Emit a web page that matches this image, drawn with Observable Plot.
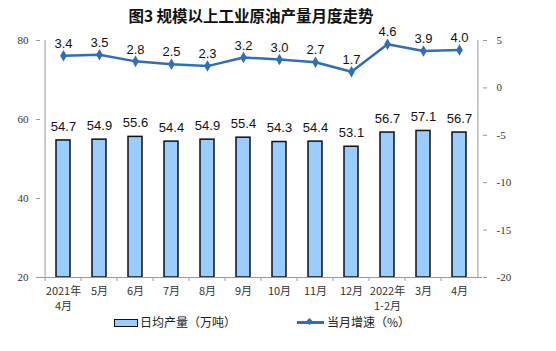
<!DOCTYPE html>
<html><head><meta charset="utf-8">
<script src="https://cdn.jsdelivr.net/npm/d3@7"></script>
<script src="https://cdn.jsdelivr.net/npm/@observablehq/plot@0.6"></script>
<style>
body{margin:0;background:#fff;width:556px;height:351px;overflow:hidden;font-family:"Noto Sans CJK SC",sans-serif;}
#title{height:30px;line-height:30px;font-size:15.5px;font-weight:bold;text-align:center;padding-right:54px;color:#111;}
#legend{height:22px;position:relative;font-size:12px;color:#222;}
.sw{position:absolute;}
</style></head><body>
<div id="title">图3 规模以上工业原油产量月度走势</div>
<div id="chart"></div>
<div id="legend">
  <div class="sw" style="left:114px;top:7px;width:22px;height:6px;background:#99ccff;border:1.5px solid #111;"></div>
  <div class="sw" style="left:140px;top:0px;line-height:20px;">日均产量（万吨）</div>
  <div class="sw" style="left:297px;top:9px;width:27px;height:2.5px;background:#2f6fba;"></div>
  <div class="sw" style="left:307px;top:7px;width:5px;height:5px;background:#2f6fba;transform:rotate(45deg);"></div>
  <div class="sw" style="left:327px;top:0px;line-height:20px;">当月增速（%）</div>
</div>
<script>
const months = ["2021年\n4月","5月","6月","7月","8月","9月","10月","11月","12月","2022年\n1-2月","3月","4月"];
const output = [54.7,54.9,55.6,54.4,54.9,55.4,54.3,54.4,53.1,56.7,57.1,56.7];
const growth = [3.4,3.5,2.8,2.5,2.3,3.2,3.0,2.7,1.7,4.6,3.9,4.0];
const leftTicks = [20,40,60,80];
const rightTicks = [-20,-15,-10,-5,0,5];

// map right-axis (growth %) onto left scale: -20..5 -> 20..80
const toLeft = v => 20 + (v + 20) * 60 / 25;
const fromLeft = y => (y - 20) * 25 / 60 - 20;

const data = months.map((m,i)=>({month:m, output:output[i], growth:growth[i], gl:toLeft(growth[i])}));
const bw = 442/12;
const axisColor = "#999";

const chart = Plot.plot({
  width:556, height:282,
  marginTop:10, marginLeft:40, marginRight:74, marginBottom:35,
  style:{background:"#fff", overflow:"visible"},
  x:{domain:months, padding:0, axis:null, label:null},
  y:{domain:[20,80], axis:null, label:null},
  marks:[
    Plot.barY(data,{x:"month", y1:20, y2:"output", fill:"#99ccff", stroke:"#111", strokeWidth:1.5, insetLeft:11, insetRight:11}),
    Plot.ruleY([20],{stroke:axisColor}),
    Plot.ruleX([months[0]],{x:d=>d, y1:20, y2:80, dx:-bw/2, stroke:axisColor}),
    Plot.ruleX([months[months.length-1]],{x:d=>d, y1:20, y2:80, dx:bw/2, stroke:axisColor}),
    Plot.ruleX(months,{x:d=>d, y1:20, y2:20, dx:-bw/2, insetBottom:-4, stroke:axisColor}),
    Plot.axisY(leftTicks,{anchor:"left", label:null, tickSize:4, tickPadding:8, stroke:axisColor, fontSize:11, fontFamily:"Liberation Serif", fill:"#333"}),
    Plot.axisY(rightTicks.map(toLeft),{anchor:"right", label:null, tickSize:4, tickPadding:10, stroke:axisColor, tickFormat:d=>String(Math.round(fromLeft(d))), fontSize:11, fontFamily:"Liberation Serif", fill:"#333", textAnchor:"start"}),
    Plot.axisX({label:null, tickSize:0, tickPadding:7, fontSize:11, fontFamily:"Noto Sans CJK SC", fill:"#333", lineHeight:1.35}),
    Plot.text(data,{x:"month", y:"output", text:d=>d.output.toFixed(1), dy:-14, fontSize:13, fontFamily:"Liberation Sans", fill:"#111"}),
    Plot.line(data,{x:"month", y:"gl", stroke:"#2f6fba", strokeWidth:2.5}),
    Plot.dot(data,{x:"month", y:"gl", symbol:"diamond", r:3.5, fill:"#2f6fba", stroke:"none"}),
    Plot.text(data,{x:"month", y:"gl", text:d=>d.growth.toFixed(1), dy:-12, fontSize:13, fontFamily:"Liberation Sans", fill:"#111"})
  ]
});
document.getElementById("chart").appendChild(chart);
</script>
</body></html>
